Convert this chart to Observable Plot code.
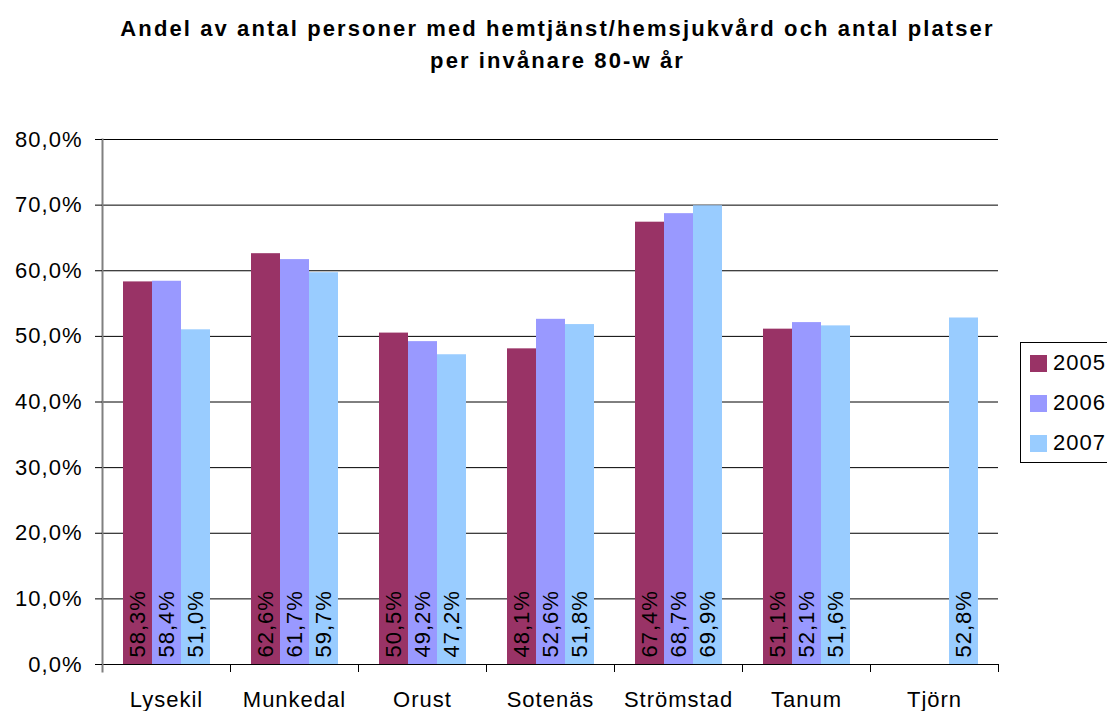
<!DOCTYPE html>
<html>
<head>
<meta charset="utf-8">
<script src="https://cdn.jsdelivr.net/npm/d3@7"></script>
<script src="https://cdn.jsdelivr.net/npm/@observablehq/plot@0.6"></script>
<style>
  html, body { margin: 0; padding: 0; background: #fff; overflow: hidden; }
  #wrap { position: relative; width: 1107px; height: 711px; overflow: hidden; font-family: "Liberation Sans", Arial, sans-serif; }
  #title { position: absolute; left: 4px; top: 13px; width: 1107px; text-align: center; font-weight: bold; font-size: 22px; line-height: 32px; letter-spacing: 2.1px; color: #000; }
  #chart { position: absolute; left: 0; top: 95px; }
  #chart svg text { letter-spacing: 1px; }
  #legend { position: absolute; left: 1020px; top: 342px; width: 110px; height: 119px; border: 1px solid #000; background: #fff; }
  .item { position: absolute; left: 9px; height: 17px; }
  .sw { position: absolute; left: 0; top: 0; width: 17px; height: 17px; }
  .lab { position: absolute; left: 23px; top: -6px; font-size: 22px; line-height: 28px; letter-spacing: 1px; white-space: nowrap; }
</style>
</head>
<body>
<div id="wrap">
  <div id="title">Andel av antal personer med hemtjänst/hemsjukvård och antal platser<br>per invånare 80-w år</div>
  <div id="chart"></div>
  <div id="legend"></div>
</div>
<script>
const categories = ["Lysekil", "Munkedal", "Orust", "Sotenäs", "Strömstad", "Tanum", "Tjörn"];
const years = ["2005", "2006", "2007"];
const values2005 = [58.3, 62.6, 50.5, 48.1, 67.4, 51.1, null];
const values2006 = [58.4, 61.7, 49.2, 52.6, 68.7, 52.1, null];
const values2007 = [51.0, 59.7, 47.2, 51.8, 69.9, 51.6, 52.8];
const colors = ["#993366", "#9999FF", "#99CCFF"];
const yTicks = [0, 10, 20, 30, 40, 50, 60, 70, 80];

const series = [values2005, values2006, values2007];
const data = [];
categories.forEach((cat, i) => {
  years.forEach((yr, j) => {
    const v = series[j][i];
    if (v != null) data.push({cat, year: yr, value: v});
  });
});

const fmt = d => d.toFixed(1).replace(".", ",") + "%";

const W = 1107, H = 616, mT = 44, mB = 47, mL = 101, mR = 109;
const plotH = H - mT - mB;

const chart = Plot.plot({
  width: W,
  height: H,
  marginTop: mT,
  marginBottom: mB,
  marginLeft: mL,
  marginRight: mR,
  style: {fontFamily: "Liberation Sans, Arial, sans-serif", fontSize: "22px", color: "#000", background: "transparent"},
  fx: {domain: categories, padding: 0, label: null},
  x: {domain: years, paddingInner: 0, paddingOuter: 0.68, axis: null},
  y: {domain: [0, 80], label: null},
  color: {domain: years, range: colors},
  marks: [
    Plot.gridY({ticks: yTicks, stroke: "#000", strokeOpacity: 1, strokeWidth: 1}),
    Plot.barY(data, {fx: "cat", x: "year", y: "value", fill: "year"}),
    Plot.text(data, {fx: "cat", x: "year", y: d => 0, text: d => fmt(d.value), rotate: -90, textAnchor: "start", dy: -7, fontSize: 22, fill: "#000"}),
    Plot.frame({anchor: "left", stroke: "#000", insetTop: plotH, insetBottom: -7}),
    Plot.frame({anchor: "right", stroke: "#000", insetTop: plotH, insetBottom: -7}),
    Plot.frame({anchor: "left", facetAnchor: "left", stroke: "#808080", strokeWidth: 2, insetBottom: -7}),
    Plot.axisY({ticks: yTicks, tickFormat: fmt, tickSize: 7, tickPadding: 13, fontSize: 22, label: null}),
    Plot.axisFx({anchor: "bottom", tickSize: 0, tickPadding: 27, fontSize: 22, label: null})
  ]
});
document.getElementById("chart").appendChild(chart);

const legend = document.getElementById("legend");
years.forEach((yr, j) => {
  const item = document.createElement("div");
  item.className = "item";
  item.style.top = (12 + j * 40) + "px";
  item.innerHTML = `<div class="sw" style="background:${colors[j]}"></div><div class="lab">${yr}</div>`;
  legend.appendChild(item);
});
</script>
</body>
</html>
